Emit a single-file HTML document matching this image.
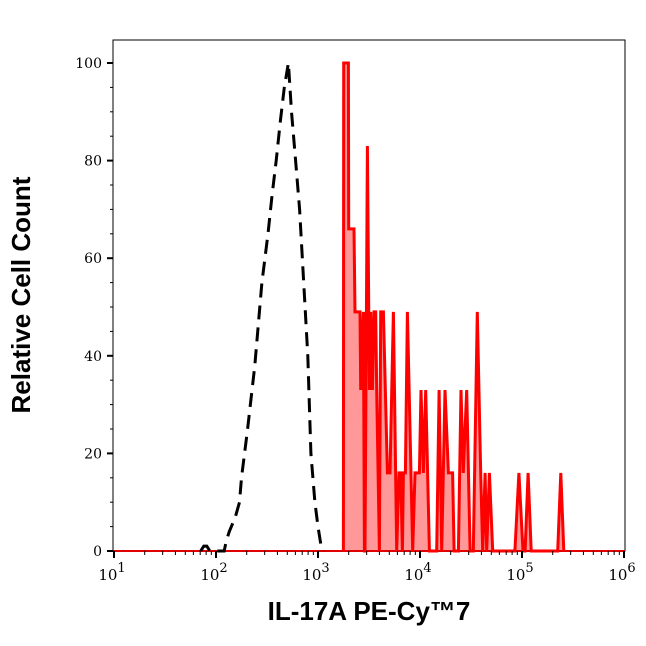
<!DOCTYPE html>
<html><head><meta charset="utf-8"><style>
body{margin:0;background:#fff;}
svg text{font-family:"DejaVu Serif","Liberation Serif",serif;}
</style></head><body>
<svg id="chart" width="646" height="641" viewBox="0 0 646 641" xmlns="http://www.w3.org/2000/svg">
<rect x="113" y="40" width="512" height="511" fill="#fff" stroke="#000" stroke-width="1"/>
<g id="marks"></g>
<g id="axes"></g>
<text x="30" y="295" transform="rotate(-90 30 295)" text-anchor="middle" font-size="26" font-weight="bold" style="font-family:'Liberation Sans',sans-serif">Relative Cell Count</text>
<text x="369" y="620" text-anchor="middle" font-size="26" font-weight="bold" style="font-family:'Liberation Sans',sans-serif">IL-17A PE-Cy™7</text>
</svg>
<script>
const yTicks=[0,20,40,60,80,100];
const xDecades=[1,2,3,4,5,6];
// red series: [log10 value, count %]
const redLog=[3.249,3.252,3.298,3.301,3.353,3.363,3.412,3.419,3.445,3.455,3.461,3.484,3.504,3.517,3.533,3.549,3.566,3.575,3.602,3.615,3.641,3.680,3.706,3.739,3.772,3.794,3.811,3.827,3.837,3.857,3.876,3.928,3.951,3.994,4.010,4.033,4.056,4.092,4.164,4.187,4.213,4.245,4.278,4.320,4.334,4.376,4.402,4.425,4.458,4.491,4.523,4.562,4.595,4.615,4.638,4.654,4.680,4.713,4.93,4.97,5.01,5.03,5.06,5.09,5.35,5.38,5.41];
const redVal=[0,100,100,66,66,49,49,33,49,0,0,83,33,49,33,49,49,33,0,49,49,16,16,49,0,16,16,0,16,16,49,0,16,16,33,16,33,0,0,33,0,33,16,16,0,0,33,16,33,0,0,49,16,0,16,0,16,0,0,16,0,0,16,0,0,16,0];
// black dashed control: [log10 value, count %]
const blkLog=[1.85,1.88,1.91,1.94,2.08,2.10,2.13,2.19,2.23,2.25,2.31,2.38,2.45,2.51,2.55,2.59,2.63,2.67,2.71,2.74,2.78,2.82,2.86,2.90,2.93,2.97,3.00,3.03,3.06];
const blkVal=[0,1,1,0,0,2,4,7,10,15,25,38,55,65,73,80,88,95,100,90,80,70,55,40,20,10,5,1,0];
function xs(l){return 114+(l-1)*102;}
function ys(v){return 551-v*4.88;}
const NS="http://www.w3.org/2000/svg";
const marks=document.getElementById('marks'),axes=document.getElementById('axes');
function mk(t,a,p){const e=document.createElementNS(NS,t);for(const k in a)e.setAttribute(k,a[k]);p.appendChild(e);return e;}
let pts=redLog.map((l,i)=>xs(l).toFixed(1)+','+ys(redVal[i]).toFixed(1));
const fill=mk('polygon',{points:pts.join(' ')+' '+xs(redLog[redLog.length-1])+','+ys(0),fill:'#ff9999',stroke:'none'},marks);


const base=mk('line',{x1:113,x2:625,y1:ys(0),y2:ys(0),stroke:'#e00000','stroke-width':2},marks);


const red=mk('polyline',{points:pts.join(' '),fill:'none',stroke:'#ff0000','stroke-width':3,'stroke-linejoin':'miter'},marks);


const blk=mk('polyline',{points:blkLog.map((l,i)=>xs(l).toFixed(1)+','+ys(blkVal[i]).toFixed(1)).join(' '),fill:'none',stroke:'#000','stroke-width':3,'stroke-dasharray':'14,8'},marks);


for(let v=0;v<=100;v+=5){const major=v%20===0;const y=ys(v);
 const t=mk('line',{x1:major?107:110,x2:113,y1:y,y2:y,stroke:'#000','stroke-width':major?2:1},axes);
 
 }
yTicks.forEach(v=>{const t=mk('text',{x:102,y:ys(v)+5,'text-anchor':'end','font-size':14},axes);t.textContent=v;
 
 });
xDecades.forEach(d=>{const x=xs(d);
 const t=mk('line',{x1:x,x2:x,y1:551,y2:558,stroke:'#000','stroke-width':2},axes);
 
 
 if(d<6)for(let m=2;m<10;m++){const xm=xs(d+Math.log10(m));const mt=mk('line',{x1:xm,x2:xm,y1:551,y2:555,stroke:'#000','stroke-width':1},axes);
  
  }
 const lb=mk('text',{x:x-2,y:580,'text-anchor':'middle','font-size':15},axes);
 
 
 lb.textContent='10';
 const s=mk('tspan',{dy:-8,'font-size':13},lb);s.textContent=d;});
</script>
</body></html>
